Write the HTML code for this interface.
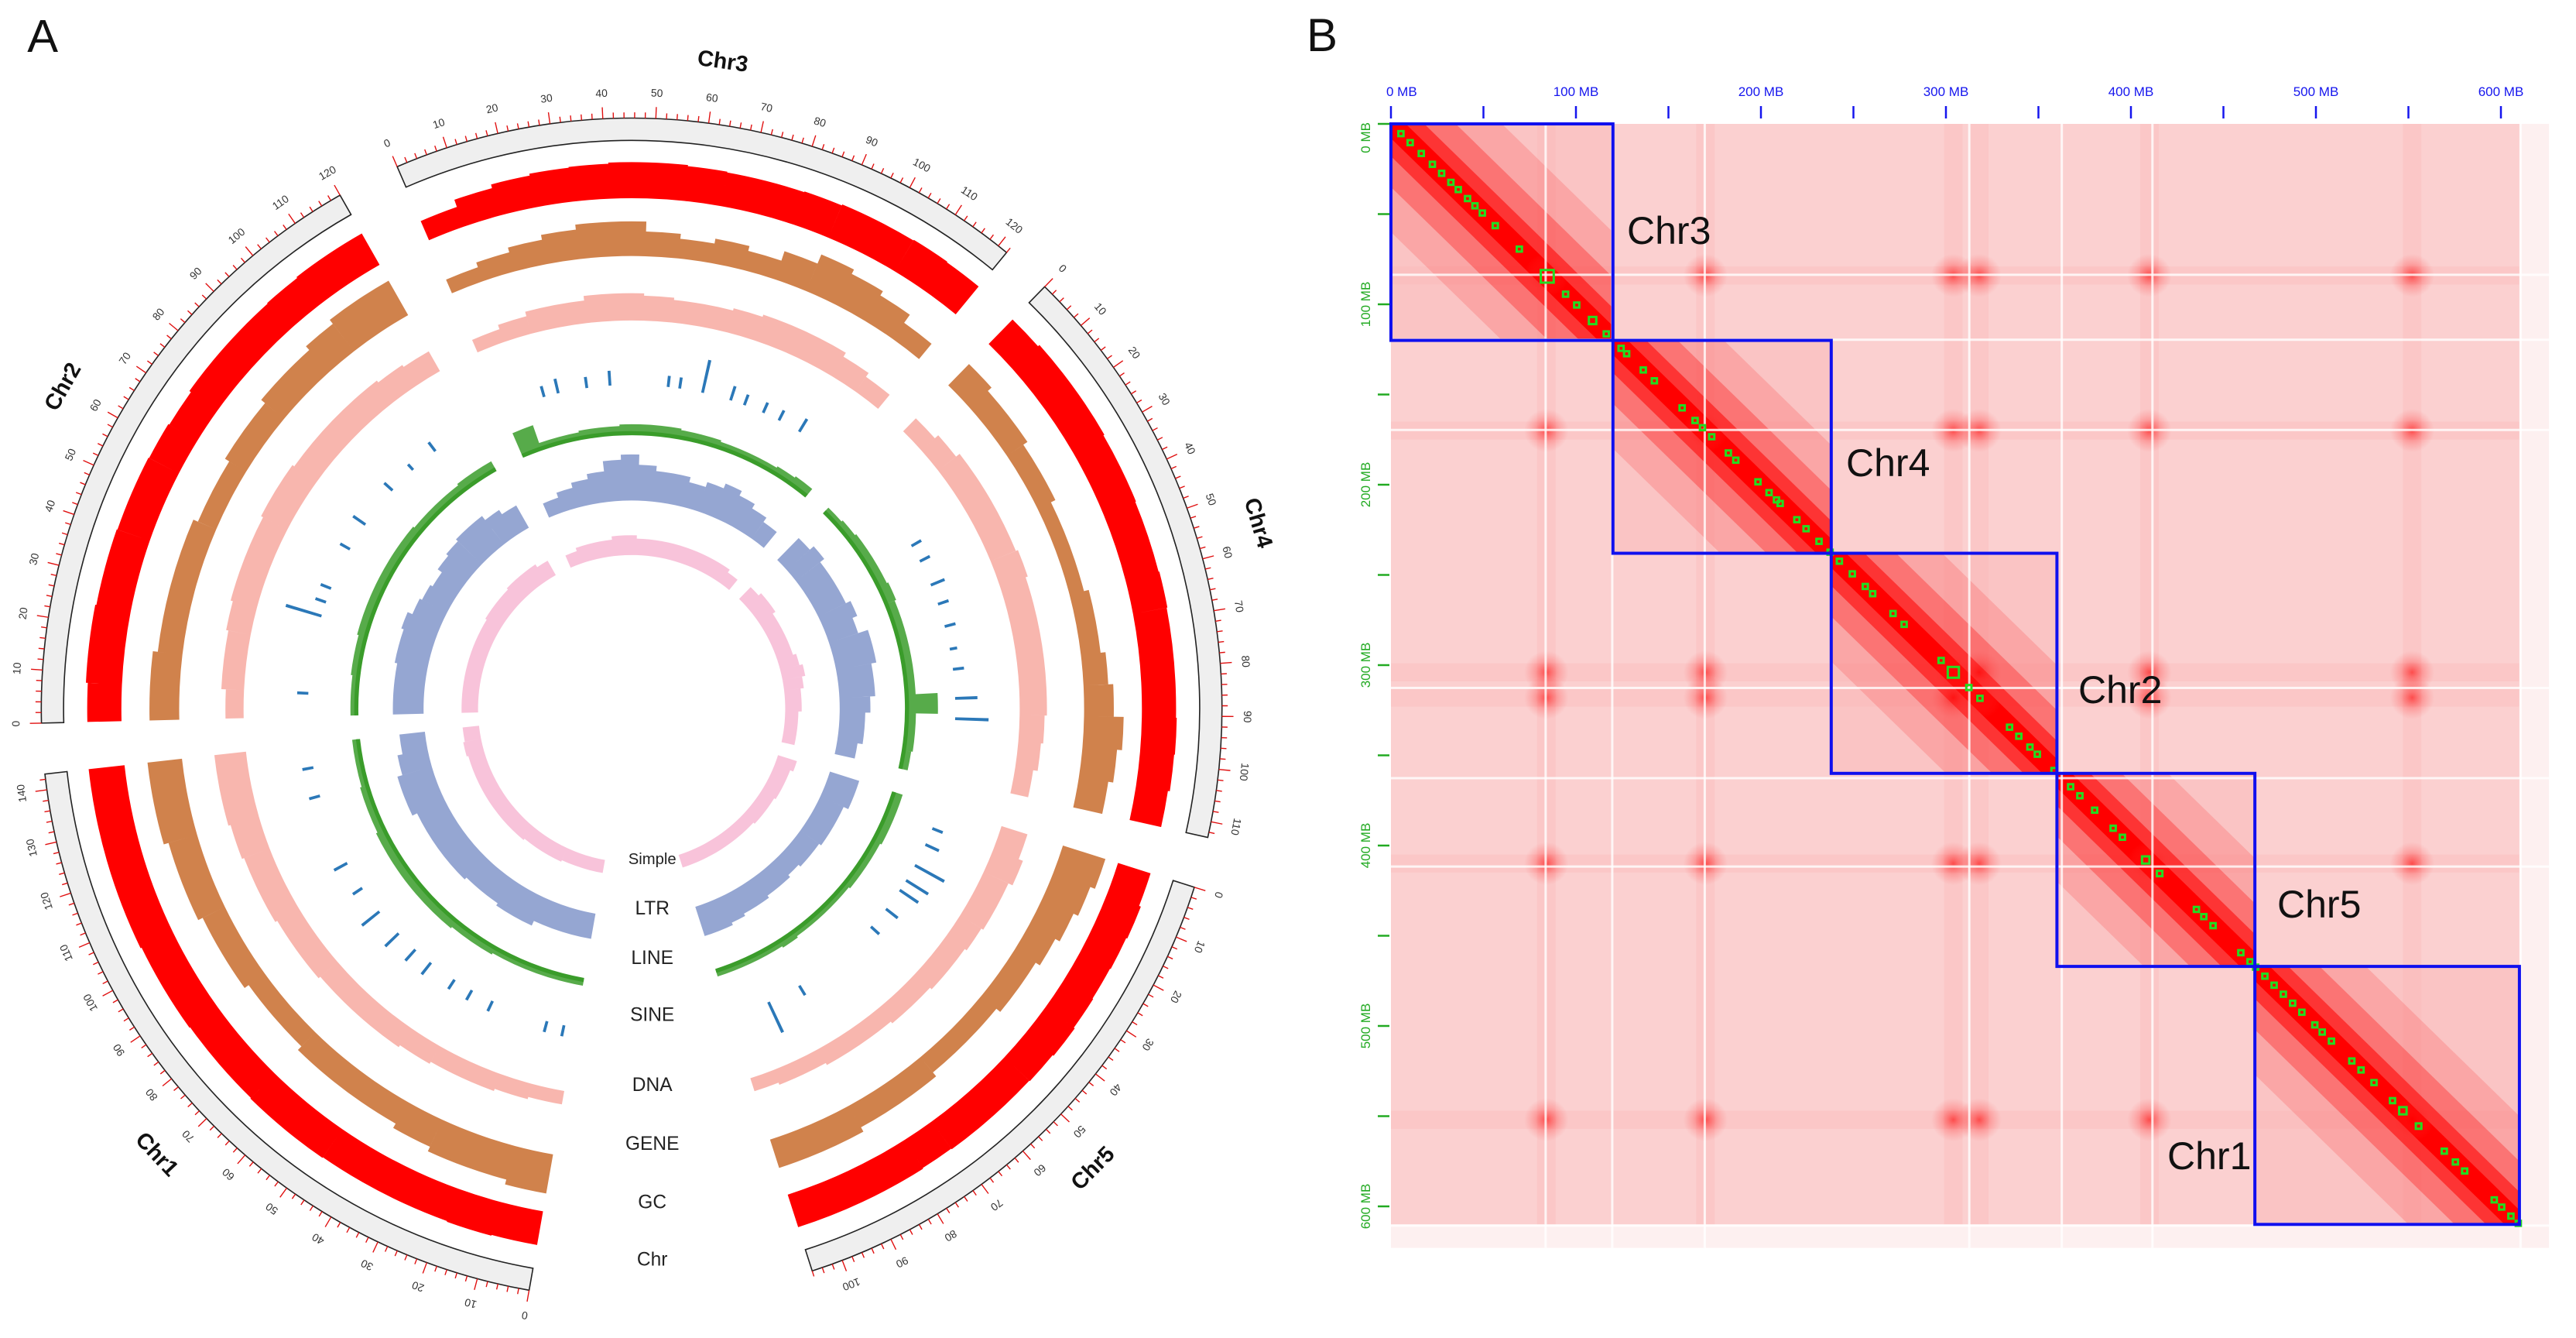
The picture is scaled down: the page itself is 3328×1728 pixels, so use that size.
<!DOCTYPE html>
<html><head><meta charset="utf-8"><title>Circos and Hi-C</title>
<style>
html,body{margin:0;padding:0;background:#fff;}
svg{display:block;font-family:"Liberation Sans",sans-serif;}
</style></head>
<body>
<svg id="fig" width="3328" height="1728" viewBox="0 0 3328 1728" xmlns="http://www.w3.org/2000/svg">
<rect width="3328" height="1728" fill="#fff"/>
<g id="panelA" transform="scale(1.0667)"></g>
<g id="panelB"></g>
</svg>
<script>
// ---------- Panel A data ----------
const chrNames = ["Chr3","Chr4","Chr5","Chr1","Chr2"];
const chrLengths = [122,113,106,143,120];
const chrStartAngles = [-23.4,44.4,107.6,190,268.6];
const gcVals = [
 [0.55,0.75,0.85,0.9,0.92,0.95,0.95,0.92,0.9,0.9,0.92,0.95,0.95,0.97,0.95],
 [0.9,0.95,0.95,0.95,0.92,0.92,0.9,0.9,0.92,0.9,0.9,0.9,0.92,0.9,0.85],
 [0.9,0.95,0.92,0.9,0.92,0.95,0.92,0.9,0.9,0.9,0.88,0.9,0.9,0.9,0.9],
 [0.9,0.92,0.9,0.9,0.9,0.92,0.92,0.9,0.9,0.92,0.92,0.95,0.95,0.95,0.95],
 [0.9,0.95,0.95,0.92,0.92,0.9,0.9,0.88,0.85,0.9,0.9,0.9,0.92,0.95,0.95]];
const geneVals = [
 [0.3,0.4,0.5,0.6,0.7,0.7,0.5,0.4,0.5,0.4,0.6,0.8,0.7,0.6,0.4],
 [0.6,0.5,0.5,0.4,0.4,0.3,0.3,0.3,0.4,0.4,0.5,0.6,0.8,0.7,0.6],
 [0.9,0.8,0.7,0.6,0.5,0.5,0.4,0.4,0.4,0.5,0.5,0.5,0.6,0.6,0.6],
 [0.8,0.7,0.7,0.6,0.5,0.5,0.5,0.4,0.4,0.5,0.5,0.6,0.6,0.7,0.7],
 [0.6,0.6,0.5,0.5,0.5,0.5,0.4,0.4,0.5,0.5,0.6,0.6,0.7,0.8,0.8]];
const dnaVals = [
 [0.3,0.4,0.5,0.5,0.6,0.6,0.55,0.5,0.5,0.55,0.6,0.6,0.6,0.5,0.4],
 [0.4,0.5,0.6,0.6,0.6,0.6,0.65,0.6,0.6,0.6,0.6,0.6,0.55,0.5,0.4],
 [0.6,0.7,0.6,0.6,0.55,0.5,0.5,0.45,0.45,0.4,0.4,0.4,0.35,0.35,0.3],
 [0.3,0.35,0.4,0.4,0.45,0.5,0.5,0.5,0.55,0.55,0.6,0.6,0.65,0.7,0.7],
 [0.4,0.5,0.5,0.55,0.6,0.6,0.6,0.65,0.65,0.6,0.6,0.6,0.6,0.55,0.5]];
const lineVals = [
 [0.8,0.2,0.2,0.25,0.25,0.3,0.3,0.3,0.25,0.25,0.2,0.2,0.2,0.25,0.3],
 [0.2,0.25,0.3,0.3,0.3,0.35,0.3,0.3,0.3,0.3,0.3,1.0,0.3,0.3,0.25],
 [0.3,0.3,0.3,0.25,0.25,0.25,0.2,0.2,0.2,0.2,0.25,0.2,0.2,0.2,0.2],
 [0.2,0.2,0.2,0.2,0.25,0.25,0.3,0.3,0.3,0.3,0.3,0.25,0.25,0.2,0.2],
 [0.2,0.2,0.25,0.25,0.3,0.3,0.3,0.3,0.3,0.3,0.25,0.25,0.25,0.3,0.3]];
const ltrVals = [
 [0.3,0.4,0.5,0.6,0.8,0.9,0.7,0.6,0.6,0.5,0.6,0.7,0.6,0.5,0.4],
 [0.6,0.7,0.6,0.6,0.6,0.7,0.6,0.8,0.8,0.7,0.7,0.6,0.5,0.5,0.4],
 [0.6,0.6,0.5,0.5,0.5,0.45,0.45,0.4,0.45,0.45,0.5,0.5,0.55,0.6,0.6],
 [0.5,0.5,0.5,0.6,0.6,0.55,0.55,0.6,0.6,0.6,0.6,0.7,0.7,0.6,0.5],
 [0.6,0.6,0.6,0.65,0.65,0.7,0.6,0.55,0.5,0.6,0.65,0.7,0.7,0.6,0.5]];
const simpleVals = [
 [0.4,0.5,0.5,0.5,0.6,0.6,0.5,0.5,0.5,0.5,0.5,0.5,0.5,0.5,0.4],
 [0.5,0.6,0.6,0.5,0.5,0.5,0.5,0.6,0.7,0.6,0.5,0.5,0.4,0.4,0.4],
 [0.6,0.5,0.5,0.5,0.45,0.45,0.45,0.4,0.4,0.4,0.4,0.4,0.4,0.4,0.4],
 [0.4,0.4,0.4,0.45,0.45,0.45,0.5,0.5,0.5,0.5,0.5,0.5,0.5,0.55,0.5],
 [0.5,0.5,0.5,0.5,0.5,0.5,0.5,0.5,0.55,0.55,0.55,0.6,0.6,0.6,0.5]];
const sinePos = [
 [15,20,30,38,58,62,70,80,85,92,98,106],
 [30,36,45,52,60,68,75,85,92],
 [8,14,22,28,32,40,48,80,92],
 [4,10,30,38,45,55,62,70,80,90,100,125,135],
 [8,35,40,45,60,70,85,95,105]];
const sineVals = [
 [0.3,0.4,0.3,0.4,0.3,0.3,0.9,0.4,0.3,0.3,0.3,0.4],
 [0.3,0.3,0.4,0.3,0.3,0.2,0.3,0.6,0.9],
 [0.3,0.4,0.9,0.7,0.6,0.4,0.3,0.3,0.9],
 [0.3,0.3,0.3,0.3,0.3,0.4,0.4,0.5,0.6,0.3,0.4,0.3,0.3],
 [0.3,1.0,0.3,0.3,0.3,0.4,0.3,0.2,0.3]];
const trackLabels = ["Simple","LTR","LINE","SINE","DNA","GENE","GC","Chr"];

// ---------- Panel B data ----------
const hicChrNames = ["Chr3","Chr4","Chr2","Chr5","Chr1"];
const hicChrLengths = [120,118,122,107,143];
const hicCentromeres = [84,170,304,318,410,552];
const hicGaps = [83,119,169,312,362,411,610];
const tadStarts = [4,9,15,21,26,31,35,40,44,48,55,68,81,93,99,107,115,
 123,126,135,141,156,163,167,172,181,185,197,203,207,209,218,223,230,236,
 241,248,255,259,270,276,296,301,311,317,333,338,344,348,357,
 366,371,379,389,394,406,414,434,438,443,458,463,466,
 471,476,481,486,491,498,502,507,518,523,530,540,545,554,568,574,579,595,599,604,608];
const tadSizes = {81:7,301:6,406:4,414:3,545:4,554:3,107:4};
const xTickVals = [0,50,100,150,200,250,300,350,400,450,500,550,600];
const xLabelVals = [0,100,200,300,400,500,600];

const NS="http://www.w3.org/2000/svg";
function mk(tag, attrs, parent){const e=document.createElementNS(NS,tag);for(const k in attrs)e.setAttribute(k,attrs[k]);parent.appendChild(e);return e;}

// ---------- Panel A drawing ----------
const A=document.getElementById('panelA');
const CX=765, CY=858, DEG=0.515;
function P(r,a){const t=a*Math.PI/180;return [CX+r*Math.sin(t), CY-r*Math.cos(t)];}
function wedge(r0,r1,a0,a1){
  const L=(a1-a0)>180?1:0;const p1=P(r1,a0),p2=P(r1,a1),p3=P(r0,a1),p4=P(r0,a0);
  return `M${p1[0].toFixed(2)},${p1[1].toFixed(2)}A${r1},${r1} 0 ${L} 1 ${p2[0].toFixed(2)},${p2[1].toFixed(2)}L${p3[0].toFixed(2)},${p3[1].toFixed(2)}A${r0},${r0} 0 ${L} 0 ${p4[0].toFixed(2)},${p4[1].toFixed(2)}Z`;
}
function ang(ci,mb){return chrStartAngles[ci]+mb*DEG;}
function binTrack(vals,base,h,color,name,op){
  const g=mk('g',{'fill-opacity':op},A);
  
  
  vals.forEach((arr,ci)=>{
    const n=arr.length, bw=chrLengths[ci]/n;
    let d='';
    arr.forEach((v,i)=>{d+=wedge(base,base+v*h,ang(ci,i*bw),ang(ci,(i+1)*bw));});
    const p=mk('path',{d:d,fill:color},g);
    
    
  });
}
chrNames.forEach((nm,ci)=>{
  const a0=ang(ci,0),a1=ang(ci,chrLengths[ci]);
  const band=mk('path',{d:wedge(688,715,a0,a1),fill:'#efefef',stroke:'#222','stroke-width':1.5},A);
  
  
  let d='';
  for(let m=0;m<=chrLengths[ci];m+=2){
    const a=ang(ci,m),major=m%10===0;
    const p1=P(715,a),p2=P(major?729:722,a);
    d+=`M${p1[0].toFixed(1)},${p1[1].toFixed(1)}L${p2[0].toFixed(1)},${p2[1].toFixed(1)}`;
    if(major){
      const q=P(745,a);
      const t=mk('text',{x:q[0],y:q[1],'font-size':13,fill:'#333','text-anchor':'middle','dominant-baseline':'middle',transform:`rotate(${a} ${q[0]} ${q[1]})`},A);
      t.textContent=m;
      
      
    }
  }
  const tk=mk('path',{d:d,stroke:'#e01010','stroke-width':1.3,fill:'none'},A);
  
  
  const am=(a0+a1)/2; const q=P(790,am);
  let rot=am; if(am>90&&am<270) rot=am-180; else if(am>=270) rot=am-360;
  const lb=mk('text',{x:q[0],y:q[1],'font-size':27,'font-weight':'bold',fill:'#111','text-anchor':'middle','dominant-baseline':'middle',transform:`rotate(${rot} ${q[0]} ${q[1]})`},A);
  lb.textContent=nm;
  
  
});
binTrack(gcVals,618,46,'#ff0000','gc',1);
binTrack(geneVals,548,60,'#c4631f','gene',0.8);
binTrack(dnaVals,470,55,'#f7aea5','dna',0.9);
binTrack(lineVals,333,38,'#3a9c2a','line',0.85);
binTrack(ltrVals,252,62,'#8a9ccd','ltr',0.9);
binTrack(simpleVals,186,40,'#f8c3da','simple',1);
chrNames.forEach((nm,ci)=>{
  const b=mk('path',{d:wedge(331,336,ang(ci,0),ang(ci,chrLengths[ci])),fill:'#3a9c2a'},A);
  
  
});
sinePos.forEach((arr,ci)=>{
  arr.forEach((m,i)=>{
    const p=mk('path',{d:wedge(392,392+sineVals[ci][i]*45,ang(ci,m)-0.25,ang(ci,m)+0.25),fill:'#2b78b8'},A);
    
    
  });
});
const labY=[1041,1101,1161,1230,1315,1386,1457,1526];
trackLabels.forEach((t,i)=>{
  const e=mk('text',{x:790,y:labY[i],'font-size':i===0?19:23,fill:'#222','text-anchor':'middle','dominant-baseline':'middle'},A);
  e.textContent=t;
  
  
});
const la=mk('text',{x:33,y:63,'font-size':56,fill:'#111'},A);la.textContent='A';



// ---------- Panel B drawing ----------
const B=document.getElementById('panelB');
const X0=1797, Y0=160, SX=2.39, SY=2.33;
const total=hicChrLengths.reduce((a,b)=>a+b,0);
function X(m){return X0+m*SX;} function Y(m){return Y0+m*SY;}
const defs=mk('defs',{},B);
const rg=mk('radialGradient',{id:'blob'},defs);
mk('stop',{offset:'0','stop-color':'#ff0000','stop-opacity':0.6},rg);
mk('stop',{offset:'0.5','stop-color':'#ff2020','stop-opacity':0.25},rg);
mk('stop',{offset:'1','stop-color':'#ff4040','stop-opacity':0},rg);
const bg=mk('rect',{x:X(0),y:Y(0),width:X(total+16)-X(0),height:Y(total+13)-Y(0),fill:'#fdf0f0'},B);


const mat=mk('rect',{x:X(0),y:Y(0),width:X(total)-X(0),height:Y(total)-Y(0),fill:'#fbd0d0'},B);


hicCentromeres.forEach(c=>{
  const s1=mk('rect',{x:X(c-5),y:Y(0),width:10*SX,height:Y(total)-Y(0),fill:'#ff3030',opacity:0.05},B);
  
  
  const s2=mk('rect',{x:X(0),y:Y(c-5),width:X(total)-X(0),height:10*SY,fill:'#ff3030',opacity:0.05},B);
  
  
});
let acc=0; const starts=[];
hicChrLengths.forEach((L,i)=>{
  const s=acc,e=acc+L; starts.push(s); acc=e;
  const blk=mk('rect',{x:X(s),y:Y(s),width:L*SX,height:L*SY,fill:'#f9b8b8',opacity:0.5},B);
  
  
  [[60,0.15],[35,0.3],[18,0.55],[8,1]].forEach(([w,o])=>{
    const pts=[[s,s],[s+w,s],[e,e-w],[e,e],[e-w,e],[s,s+w]].map(p=>X(p[0]).toFixed(1)+','+Y(p[1]).toFixed(1)).join(' ');
    const pg=mk('polygon',{points:pts,fill:'#ff0000',opacity:o},B);
    
    
  });
});
hicCentromeres.forEach(ci=>{hicCentromeres.forEach(cj=>{
  const el=mk('ellipse',{cx:X(ci),cy:Y(cj),rx:12*SX,ry:12*SY,fill:'url(#blob)'},B);
  
  
});});
hicGaps.forEach(g=>{
  const v=mk('rect',{x:X(g),y:Y(0),width:3,height:Y(total+13)-Y(0),fill:'#fff',opacity:0.8},B);
  
  
  const h=mk('rect',{x:X(0),y:Y(g),width:X(total+16)-X(0),height:3,fill:'#fff',opacity:0.8},B);
  
  
});
tadStarts.forEach(m=>{
  const sz=tadSizes[m]||2.8;
  const r=mk('rect',{x:X(m),y:Y(m),width:sz*SX,height:sz*SY,fill:'none',stroke:'#22dd22','stroke-width':3},B);
  
  
});
const labelPos=[[2102,315],[2385,615],[2685,908],[2942,1185],[2800,1510]];
hicChrLengths.forEach((L,i)=>{
  const s=starts[i];
  const bx=mk('rect',{x:X(s),y:Y(s),width:L*SX,height:L*SY,fill:'none',stroke:'#1010ee','stroke-width':4},B);
  
  
  const t=mk('text',{x:labelPos[i][0],y:labelPos[i][1],'font-size':50,fill:'#111'},B);
  t.textContent=hicChrNames[i];
  
  
});
xTickVals.forEach(v=>{
  const t=mk('line',{x1:X(v),x2:X(v),y1:137,y2:153,stroke:'#1515ee','stroke-width':2.5},B);
  
  
  const u=mk('line',{x1:1780,x2:1795,y1:Y(v),y2:Y(v),stroke:'#22aa22','stroke-width':2.5},B);
  
  
});
xLabelVals.forEach(v=>{
  const t=mk('text',{x:X(v)+(v===0?-6:0),y:124,'font-size':17,fill:'#1515ee','text-anchor':v===0?'start':'middle'},B);
  t.textContent=v+' MB';
  
  
  const yy=Y(v)+(v===0?-2:0);
  const u=mk('text',{x:1770,y:yy,'font-size':17,fill:'#22aa22','text-anchor':v===0?'end':'middle',transform:`rotate(-90 1770 ${yy})`},B);
  u.textContent=v+' MB';
  
  
});
const lb2=mk('text',{x:1688,y:66,'font-size':60,fill:'#111'},B);lb2.textContent='B';


</script>
</body></html>
